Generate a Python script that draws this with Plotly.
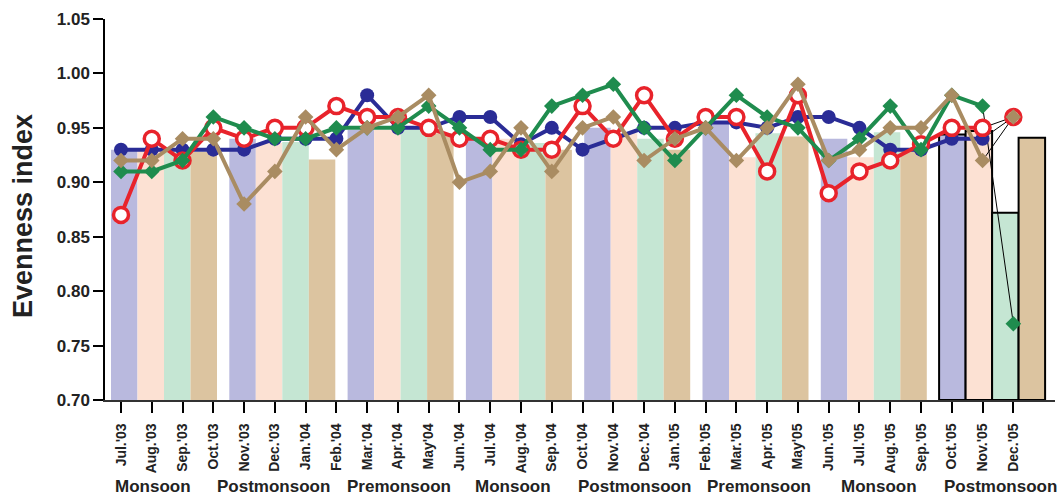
import plotly.graph_objects as go

# Monthly sampling dates (line series)
months = ["Jul.'03", "Aug.'03", "Sep.'03", "Oct.'03", "Nov.'03", "Dec.'03",
          "Jan.'04", "Feb.'04", "Mar.'04", "Apr.'04", "May'04", "Jun.'04",
          "Jul.'04", "Aug.'04", "Sep.'04", "Oct.'04", "Nov.'04", "Dec.'04",
          "Jan.'05", "Feb.'05", "Mar.'05", "Apr.'05", "May'05", "Jun.'05",
          "Jul.'05", "Aug.'05", "Sep.'05", "Oct.'05", "Nov.'05", "Dec.'05"]

seasons = ["Monsoon", "Postmonsoon", "Premonsoon", "Monsoon",
           "Postmonsoon", "Premonsoon", "Monsoon", "Postmonsoon"]

# Evenness index per station (monthly)
navy_vals = [0.93, 0.93, 0.93, 0.93, 0.93, 0.94, 0.94, 0.94, 0.98, 0.95,
             0.95, 0.96, 0.96, 0.935, 0.95, 0.93, 0.94, 0.95, 0.95, 0.955,
             0.955, 0.95, 0.96, 0.96, 0.95, 0.93, 0.93, 0.94, 0.94, 0.96]
red_vals = [0.87, 0.94, 0.92, 0.95, 0.94, 0.95, 0.95, 0.97, 0.96, 0.96,
            0.95, 0.94, 0.94, 0.93, 0.93, 0.97, 0.94, 0.98, 0.94, 0.96,
            0.96, 0.91, 0.98, 0.89, 0.91, 0.92, 0.935, 0.95, 0.95, 0.96]
green_vals = [0.91, 0.91, 0.92, 0.96, 0.95, 0.94, 0.94, 0.95, 0.95, 0.95,
              0.97, 0.95, 0.93, 0.93, 0.97, 0.98, 0.99, 0.95, 0.92, 0.95,
              0.98, 0.96, 0.95, 0.92, 0.94, 0.97, 0.93, 0.98, 0.97, 0.77]
tan_vals = [0.92, 0.92, 0.94, 0.94, 0.88, 0.91, 0.96, 0.93, 0.95, 0.96,
            0.98, 0.90, 0.91, 0.95, 0.91, 0.95, 0.96, 0.92, 0.94, 0.95,
            0.92, 0.95, 0.99, 0.92, 0.93, 0.95, 0.95, 0.98, 0.92, 0.96]

# Seasonal evenness (bars, one per station within each season)
bar_navy = [0.93, 0.94, 0.948, 0.94, 0.95, 0.955, 0.94, 0.944]
bar_red = [0.93, 0.936, 0.948, 0.94, 0.945, 0.923, 0.923, 0.947]
bar_green = [0.93, 0.937, 0.95, 0.936, 0.94, 0.945, 0.946, 0.872]
bar_tan = [0.928, 0.921, 0.945, 0.93, 0.93, 0.942, 0.93, 0.941]

FONT = "Arial, Liberation Sans, sans-serif"
W, H = 1057, 496
ML, MR, MT, MB = 105, 2, 19, 96
PW = W - ML - MR
PH = H - MT - MB

fig = go.Figure()

bar_sets = [(bar_navy, "#b9b9de"), (bar_red, "#fce1d3"),
            (bar_green, "#c5e6d3"), (bar_tan, "#dcc4a0")]
groups = list(range(len(seasons)))
for vals, col in bar_sets:
    outline = [0] * (len(vals) - 1) + [2]
    fig.add_trace(go.Bar(
        x=groups, y=[v - 0.70 for v in vals], base=0.70,
        marker=dict(color=col, line=dict(color="black", width=outline)),
        xaxis="x", yaxis="y", showlegend=False, hoverinfo="skip"))

idx = list(range(len(months)))
series = [
    (navy_vals, "#2a2c96", dict(symbol="circle", size=14, color="#2a2c96",
                                line=dict(width=0))),
    (red_vals, "#e8232b", dict(symbol="circle", size=15, color="white",
                               line=dict(color="#e8232b", width=3.5))),
    (green_vals, "#1f8c4e", dict(symbol="diamond", size=12, color="#1f8c4e",
                                 line=dict(width=0))),
    (tan_vals, "#a98c62", dict(symbol="diamond", size=12, color="#a98c62",
                               line=dict(width=0))),
]

# thin connectors into the final month
for vals, col, mk in series:
    fig.add_trace(go.Scatter(
        x=idx[-2:], y=vals[-2:], mode="lines",
        line=dict(color="black", width=1),
        xaxis="x2", yaxis="y", showlegend=False, hoverinfo="skip"))

for vals, col, mk in series:
    fig.add_trace(go.Scatter(
        x=idx[:-1], y=vals[:-1], mode="lines+markers",
        line=dict(color=col, width=4), marker=mk,
        xaxis="x2", yaxis="y", showlegend=False))

for vals, col, mk in series:
    fig.add_trace(go.Scatter(
        x=idx[-1:], y=vals[-1:], mode="markers", marker=mk,
        xaxis="x2", yaxis="y", showlegend=False))

# axis ranges so that grouped bars and monthly ticks share the plot width
bar_pitch = 118.3
bar_c0 = 164 - ML
line_pitch = 30.77
line_c0 = 121 - ML

fig.update_layout(
    width=W, height=H,
    margin=dict(l=ML, r=MR, t=MT, b=MB),
    paper_bgcolor="white", plot_bgcolor="white",
    barmode="group", bargap=0.104, bargroupgap=0,
    xaxis=dict(range=[-bar_c0 / bar_pitch, (PW - bar_c0) / bar_pitch],
               visible=False, fixedrange=True),
    xaxis2=dict(range=[-line_c0 / line_pitch, (PW - line_c0) / line_pitch],
                overlaying="x", side="bottom", anchor="y",
                tickmode="array", tickvals=idx, ticktext=months,
                tickangle=-90, ticks="outside", ticklen=11, tickwidth=1.5,
                tickcolor="black", showline=True, linecolor="#333333",
                linewidth=1.5, showgrid=False, zeroline=False,
                ticklabelstandoff=5,
                tickfont=dict(family=FONT, size=14, color="#222222",
                              weight="bold")),
    yaxis=dict(range=[0.70, 1.05], tickmode="array",
               tickvals=[0.70, 0.75, 0.80, 0.85, 0.90, 0.95, 1.00, 1.05],
               tickformat=".2f", ticks="outside", ticklen=10, tickwidth=1.5,
               tickcolor="black", showline=True, linecolor="black",
               linewidth=1.5, showgrid=False, zeroline=False,
               tickfont=dict(family=FONT, size=17, color="#222222",
                             weight="bold")),
)

annotations = [dict(
    text="Evenness index", textangle=-90, showarrow=False,
    xref="paper", yref="paper",
    x=(23 - ML) / PW, y=(MT + PH - 216) / PH,
    xanchor="center", yanchor="middle",
    font=dict(family=FONT, size=27, color="#222222", weight="bold"))]

season_centers = [153, 273, 399, 513, 634, 759, 879, 1000]
for name, cx in zip(seasons, season_centers):
    annotations.append(dict(
        text=name, showarrow=False, xref="paper", yref="paper",
        x=(cx - ML) / PW, y=(MT + PH - 486) / PH,
        xanchor="center", yanchor="middle",
        font=dict(family=FONT, size=17, color="#222222", weight="bold")))

fig.update_layout(annotations=annotations)

fig.write_html("out.html")
